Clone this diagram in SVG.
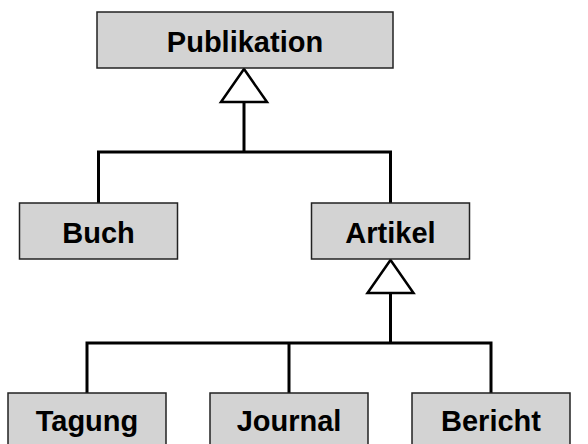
<svg xmlns="http://www.w3.org/2000/svg" width="588" height="444" viewBox="0 0 588 444">
<style>
.box{fill:#d3d3d3;stroke:#222;stroke-width:1.5}
.lbl{font-family:"Liberation Sans",Arial,sans-serif;font-weight:bold;font-size:29px;fill:#000;text-anchor:middle}
.ln{fill:none;stroke:#000;stroke-width:3}
.tri{fill:#fff;stroke:#000;stroke-width:2.5;stroke-linejoin:miter}
</style>
<rect width="588" height="444" fill="#fff"/>
<g id="connectors">
<polyline class="ln" points="98.5,203 98.5,152 390.5,152 390.5,203"/>
<line class="ln" x1="244" y1="102" x2="244" y2="152"/>
<polygon class="tri" points="244,69 221,102 267,102"/>
<polyline class="ln" points="87,393 87,343 491,343 491,393"/>
<line class="ln" x1="289" y1="343" x2="289" y2="393"/>
<line class="ln" x1="390.5" y1="293" x2="390.5" y2="343"/>
<polygon class="tri" points="390.5,260 367.5,293 413.5,293"/>
</g>
<g id="publikation"><rect class="box" x="97" y="12" width="296" height="56"/><text class="lbl" x="245" y="52">Publikation</text></g>
<g id="buch"><rect class="box" x="19.5" y="203" width="158" height="56"/><text class="lbl" x="98.5" y="242.5">Buch</text></g>
<g id="artikel"><rect class="box" x="311.5" y="203" width="158" height="56"/><text class="lbl" x="390.5" y="242.5">Artikel</text></g>
<g id="tagung"><rect class="box" x="8" y="393" width="158" height="56"/><text class="lbl" x="87" y="431">Tagung</text></g>
<g id="journal"><rect class="box" x="210" y="393" width="158" height="56"/><text class="lbl" x="289" y="431">Journal</text></g>
<g id="bericht"><rect class="box" x="412" y="393" width="158" height="56"/><text class="lbl" x="491" y="431">Bericht</text></g>
</svg>
